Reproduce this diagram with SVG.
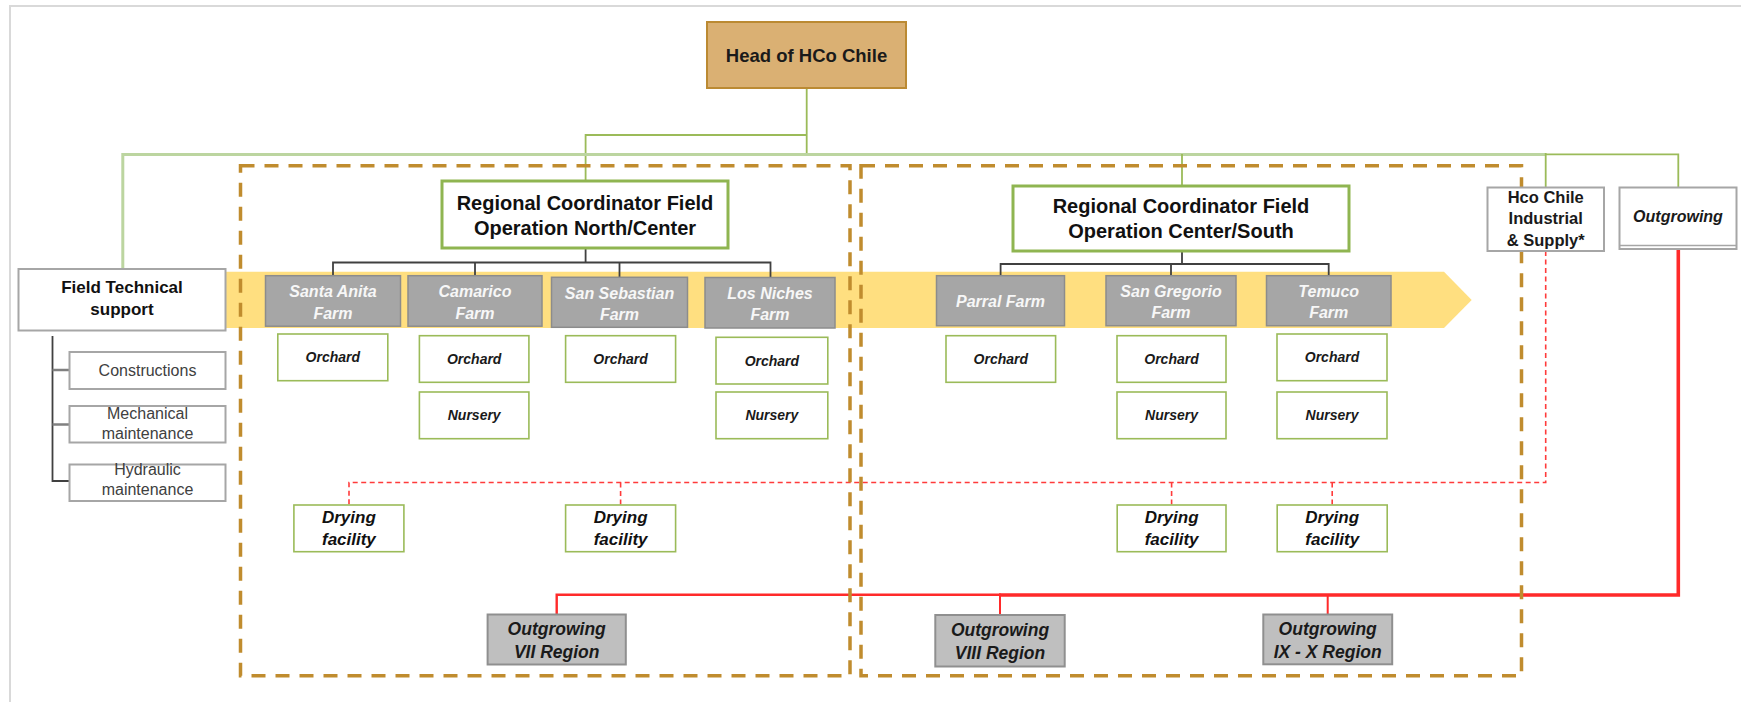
<svg xmlns="http://www.w3.org/2000/svg" width="1741" height="702" viewBox="0 0 1741 702">
  <style>
    text { font-family: "Liberation Sans", Arial, sans-serif; text-anchor: middle; }
    .frame { fill: none; stroke: #d9d9d9; stroke-width: 2; }
    .band { fill: #ffdf80; }
    .head { fill: #dab073; stroke: #bb8a33; stroke-width: 2; }
    .coord { fill: #fff; stroke: #8fb551; stroke-width: 3; }
    .gbox { fill: #fff; stroke: #9bbb59; stroke-width: 1.6; }
    .wbox { fill: #fff; stroke: #a6a6a6; stroke-width: 2; }
    .farm { fill: #a6a6a6; stroke: #8c8c8c; stroke-width: 1.5; }
    .region { fill: #bfbfbf; stroke: #8f8f8f; stroke-width: 2; }
    .zone { fill: none; stroke: #c08c2e; stroke-width: 3.5; stroke-dasharray: 14 10; }
    .ln-green { fill: none; stroke: #9bbb59; stroke-width: 1.8; }
    .ln-green-soft { fill: none; stroke: #bcd5a0; stroke-width: 3; }
    .ln-dark { fill: none; stroke: #404040; stroke-width: 1.8; }
    .ln-red { fill: none; stroke: #ff2a2a; }
    .ln-red-dash { fill: none; stroke: #ff3b3b; stroke-width: 1.6; stroke-dasharray: 5 3.5; }
    .t-head { font-size: 18.5px; font-weight: bold; fill: #1a1a1a; }
    .t-coord { font-size: 20px; font-weight: bold; fill: #111; }
    .t-farm { font-size: 16px; font-weight: bold; font-style: italic; fill: #f7f7f7; }
    .t-unit { font-size: 14px; font-weight: bold; font-style: italic; fill: #1a1a1a; }
    .t-dry { font-size: 17px; font-weight: bold; font-style: italic; fill: #111; }
    .t-reg { font-size: 17.5px; font-weight: bold; font-style: italic; fill: #1a1a1a; }
    .t-side { font-size: 17px; font-weight: bold; fill: #111; }
    .t-sub { font-size: 16px; fill: #404040; }
    .t-hco { font-size: 16.5px; font-weight: bold; fill: #1a1a1a; }
    .t-out { font-size: 16px; font-weight: bold; font-style: italic; fill: #1a1a1a; }
  </style>

  <!-- page frame -->
  <path class="frame" d="M10,702 V6 H1741"/>

  <!-- yellow process arrow behind the farms -->
  <polygon class="band" points="200,271.7 1444,271.7 1471.7,300 1444,328 200,328"/>

  <g id="connectors">
    <!-- head to top-level units -->
    <path class="ln-green" d="M806.7,88 V155"/>
    <path class="ln-green" d="M806.7,135 H585.6 V181"/>
    <path class="ln-green-soft" d="M122.8,269 V154.5 H1545.7"/>
    <path class="ln-green" d="M1545.7,153 V187.5"/>
    <path class="ln-green" d="M1545.7,154.3 H1678.3 V187.5"/>
    <path class="ln-green" d="M1182,154 V186"/>

    <!-- field technical support branches -->
    <path class="ln-dark" d="M52.5,336 V481 H69.5"/>
    <path fill="none" stroke="#808080" stroke-width="2.5" d="M52.5,370 H69.5 M52.5,424.5 H69.5"/>

    <!-- coordinators to farms -->
    <path class="ln-dark" d="M585.6,248.3 V262.5 M333,276 V262.5 H770.5 V277.5 M475,262.5 V276 M619.5,262.5 V277.5"/>
    <path class="ln-dark" d="M1182,251 V264 M1000.6,276 V264 H1328.7 V276 M1171,264 V276"/>

    <!-- industrial & supply to drying facilities -->
    <path class="ln-red-dash" d="M1545.7,251 V482.5 H349 V505"/>
    <path class="ln-red-dash" d="M620.6,482.5 V505 M1171.6,482.5 V505 M1332.2,482.5 V505"/>

    <!-- outgrowing to regions -->
    <path class="ln-red" stroke-width="2.4" stroke="#ff4d4d" d="M1001,594.7 H556.7 V614.5"/>
    <path class="ln-red" stroke-width="2" d="M1000,594.7 V615 M1327.7,594.7 V614.5"/>
    <path class="ln-red" stroke-width="3.6" d="M1678.3,249.5 V595 H999"/>
  </g>

  <!-- operating zones -->
  <g id="zones">
    <rect class="zone" x="240.5" y="165.7" width="609.5" height="510"/>
    <rect class="zone" x="861" y="165.7" width="660.5" height="510"/>
  </g>

  <g id="head-hco-chile">
    <rect class="head" x="707" y="22" width="199" height="66"/>
    <text class="t-head" x="806.5" y="61.5">Head of HCo Chile</text>
  </g>

  <g id="coordinator-north-center">
    <rect class="coord" x="442" y="181" width="286" height="67"/>
    <text class="t-coord" x="585" y="210">Regional Coordinator Field</text>
    <text class="t-coord" x="585" y="235">Operation North/Center</text>
  </g>

  <g id="coordinator-center-south">
    <rect class="coord" x="1013" y="186" width="336" height="65"/>
    <text class="t-coord" x="1181" y="213.3">Regional Coordinator Field</text>
    <text class="t-coord" x="1181" y="238.3">Operation Center/South</text>
  </g>

  <g id="field-technical-support">
    <rect class="wbox" x="18.5" y="269" width="207" height="61.5"/>
    <text class="t-side" x="122" y="293.3">Field Technical</text>
    <text class="t-side" x="122" y="315">support</text>
  </g>
  <g id="constructions">
    <rect class="wbox" x="69.5" y="352" width="156" height="37"/>
    <text class="t-sub" x="147.5" y="375.5">Constructions</text>
  </g>
  <g id="mechanical-maintenance">
    <rect class="wbox" x="69.5" y="406" width="156" height="36.5"/>
    <text class="t-sub" x="147.5" y="419">Mechanical</text>
    <text class="t-sub" x="147.5" y="438.5">maintenance</text>
  </g>
  <g id="hydraulic-maintenance">
    <rect class="wbox" x="69.5" y="464.5" width="156" height="36.5"/>
    <text class="t-sub" x="147.5" y="475">Hydraulic</text>
    <text class="t-sub" x="147.5" y="495">maintenance</text>
  </g>

  <g id="hco-industrial-supply">
    <rect class="wbox" x="1487.5" y="187.5" width="116.5" height="63.5"/>
    <text class="t-hco" x="1545.7" y="202.5">Hco Chile</text>
    <text class="t-hco" x="1545.7" y="224">Industrial</text>
    <text class="t-hco" x="1545.7" y="245.5">&amp; Supply*</text>
  </g>

  <g id="outgrowing">
    <rect class="wbox" x="1619.5" y="187.5" width="117" height="61.5"/>
    <line x1="1619.5" y1="245.5" x2="1736.5" y2="245.5" stroke="#a6a6a6" stroke-width="1.5"/>
    <text class="t-out" x="1678" y="221.5">Outgrowing</text>
  </g>

  <!-- farms -->
  <g id="farm-santa-anita">
    <rect class="farm" x="265.5" y="275.7" width="135" height="50.5"/>
    <text class="t-farm" x="333" y="297">Santa Anita</text>
    <text class="t-farm" x="333" y="318.5">Farm</text>
  </g>
  <g id="farm-camarico">
    <rect class="farm" x="408" y="275.7" width="134" height="50.5"/>
    <text class="t-farm" x="475" y="297">Camarico</text>
    <text class="t-farm" x="475" y="318.5">Farm</text>
  </g>
  <g id="farm-san-sebastian">
    <rect class="farm" x="551.5" y="277.3" width="136" height="50"/>
    <text class="t-farm" x="619.5" y="298.5">San Sebastian</text>
    <text class="t-farm" x="619.5" y="320">Farm</text>
  </g>
  <g id="farm-los-niches">
    <rect class="farm" x="705" y="277.5" width="130" height="50.5"/>
    <text class="t-farm" x="770" y="298.5">Los Niches</text>
    <text class="t-farm" x="770" y="320">Farm</text>
  </g>
  <g id="farm-parral">
    <rect class="farm" x="936.5" y="275.7" width="128" height="50"/>
    <text class="t-farm" x="1000.5" y="306.5">Parral Farm</text>
  </g>
  <g id="farm-san-gregorio">
    <rect class="farm" x="1106" y="275.7" width="130" height="50"/>
    <text class="t-farm" x="1171" y="296.5">San Gregorio</text>
    <text class="t-farm" x="1171" y="318">Farm</text>
  </g>
  <g id="farm-temuco">
    <rect class="farm" x="1266.5" y="275.7" width="124.5" height="50"/>
    <text class="t-farm" x="1328.7" y="296.5">Temuco</text>
    <text class="t-farm" x="1328.7" y="318">Farm</text>
  </g>

  <!-- orchards and nurseries -->
  <g id="santa-anita-orchard">
    <rect class="gbox" x="277.8" y="334" width="110" height="46.7"/>
    <text class="t-unit" x="332.8" y="362.4">Orchard</text>
  </g>
  <g id="camarico-orchard">
    <rect class="gbox" x="419.4" y="335.7" width="109.5" height="46.6"/>
    <text class="t-unit" x="474.2" y="364">Orchard</text>
  </g>
  <g id="camarico-nursery">
    <rect class="gbox" x="419.4" y="392" width="109.5" height="46.7"/>
    <text class="t-unit" x="474.2" y="420.4">Nursery</text>
  </g>
  <g id="san-sebastian-orchard">
    <rect class="gbox" x="565.6" y="335.7" width="110" height="46.6"/>
    <text class="t-unit" x="620.6" y="364">Orchard</text>
  </g>
  <g id="los-niches-orchard">
    <rect class="gbox" x="716" y="337.3" width="111.8" height="46.7"/>
    <text class="t-unit" x="771.9" y="365.7">Orchard</text>
  </g>
  <g id="los-niches-nursery">
    <rect class="gbox" x="716" y="392" width="111.8" height="46.7"/>
    <text class="t-unit" x="771.9" y="420.4">Nursery</text>
  </g>
  <g id="parral-orchard">
    <rect class="gbox" x="946" y="335.7" width="109.6" height="46.6"/>
    <text class="t-unit" x="1000.8" y="364">Orchard</text>
  </g>
  <g id="san-gregorio-orchard">
    <rect class="gbox" x="1117" y="335.7" width="109" height="46.6"/>
    <text class="t-unit" x="1171.5" y="364">Orchard</text>
  </g>
  <g id="san-gregorio-nursery">
    <rect class="gbox" x="1117" y="392" width="109" height="46.7"/>
    <text class="t-unit" x="1171.5" y="420.4">Nursery</text>
  </g>
  <g id="temuco-orchard">
    <rect class="gbox" x="1277" y="334" width="110" height="46.7"/>
    <text class="t-unit" x="1332" y="362.4">Orchard</text>
  </g>
  <g id="temuco-nursery">
    <rect class="gbox" x="1277" y="392" width="110" height="46.7"/>
    <text class="t-unit" x="1332" y="420.4">Nursery</text>
  </g>

  <!-- drying facilities -->
  <g id="drying-facility-1">
    <rect class="gbox" x="293.9" y="505" width="110" height="46.7"/>
    <text class="t-dry" x="348.9" y="523.3">Drying</text>
    <text class="t-dry" x="348.9" y="545">facility</text>
  </g>
  <g id="drying-facility-2">
    <rect class="gbox" x="565.6" y="505" width="110" height="46.7"/>
    <text class="t-dry" x="620.6" y="523.3">Drying</text>
    <text class="t-dry" x="620.6" y="545">facility</text>
  </g>
  <g id="drying-facility-3">
    <rect class="gbox" x="1117.2" y="505" width="108.8" height="46.7"/>
    <text class="t-dry" x="1171.6" y="523.3">Drying</text>
    <text class="t-dry" x="1171.6" y="545">facility</text>
  </g>
  <g id="drying-facility-4">
    <rect class="gbox" x="1277.2" y="505" width="110" height="46.7"/>
    <text class="t-dry" x="1332.2" y="523.3">Drying</text>
    <text class="t-dry" x="1332.2" y="545">facility</text>
  </g>

  <!-- outgrowing regions -->
  <g id="outgrowing-vii">
    <rect class="region" x="487.6" y="614.5" width="138.2" height="50"/>
    <text class="t-reg" x="556.7" y="635">Outgrowing</text>
    <text class="t-reg" x="556.7" y="658">VII Region</text>
  </g>
  <g id="outgrowing-viii">
    <rect class="region" x="935.3" y="615" width="129.4" height="51.5"/>
    <text class="t-reg" x="1000" y="635.5">Outgrowing</text>
    <text class="t-reg" x="1000" y="658.8">VIII Region</text>
  </g>
  <g id="outgrowing-ix-x">
    <rect class="region" x="1263.3" y="614.5" width="128.9" height="49.8"/>
    <text class="t-reg" x="1327.7" y="635">Outgrowing</text>
    <text class="t-reg" x="1327.7" y="658">IX - X Region</text>
  </g>
</svg>
